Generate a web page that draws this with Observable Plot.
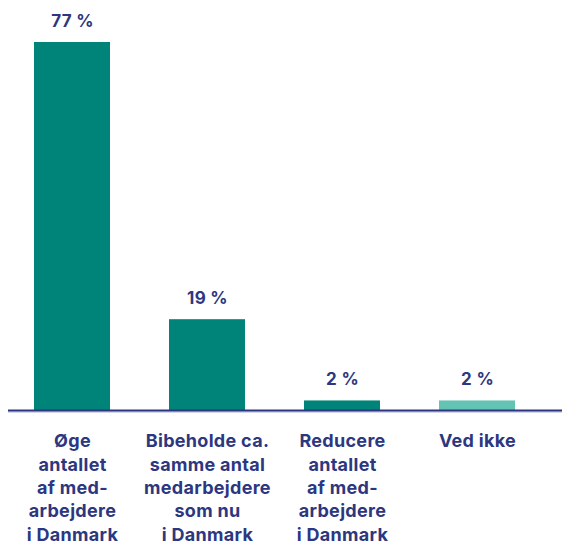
<!DOCTYPE html>
<html>
<head>
<meta charset="utf-8">
<script src="https://cdn.jsdelivr.net/npm/d3@7"></script>
<script src="https://cdn.jsdelivr.net/npm/@observablehq/plot@0.6"></script>
<style>
  html, body { margin: 0; padding: 0; background: #fff; }
  #chart { width: 562px; height: 547px; }
</style>
</head>
<body>
<div id="chart"></div>
<script>
const categories = [
  "Øge\nantallet\naf med-\narbejdere\ni Danmark",
  "Bibeholde ca.\nsamme antal\nmedarbejdere\nsom nu\ni Danmark",
  "Reducere\nantallet\naf med-\narbejdere\ni Danmark",
  "Ved ikke"
];
const values = [77, 19, 2, 2];
const valueLabels = ["77 %", "19 %", "2 %", "2 %"];
const barColors = ["#00847a", "#00847a", "#00847a", "#64c4b4"];

const data = categories.map((c, i) => ({cat: c, value: values[i], label: valueLabels[i], color: barColors[i]}));
const navy = "#2c3780";
const font = "Inter, 'Open Sans', sans-serif";

const chart = Plot.plot({
  width: 562,
  height: 547,
  marginLeft: 8,
  marginRight: 0,
  marginTop: 42,
  marginBottom: 137,
  style: {fontFamily: font, background: "#fff"},
  x: {domain: categories, paddingInner: 0.4384, paddingOuter: 0.266, align: 0.361, axis: null},
  y: {domain: [0, 77], axis: null},
  marks: [
    Plot.barY(data, {x: "cat", y: "value", fill: "color"}),
    Plot.ruleY([0], {stroke: "#aab0d0", strokeWidth: 1, dy: 1.5}),
    Plot.ruleY([0], {stroke: navy, strokeWidth: 2}),
    Plot.text(data, {x: "cat", y: "value", text: "label", lineAnchor: "bottom", dy: -16,
      fill: navy, fontSize: 17, fontWeight: 700}),
    Plot.text(data, {x: "cat", y: 0, text: "cat", lineAnchor: "top", dy: 20,
      fill: navy, fontSize: 18, fontWeight: 700, lineHeight: 1.3})
  ]
});
chart.querySelectorAll("text").forEach(t => t.style.letterSpacing = "0.3px");
document.getElementById("chart").appendChild(chart);
</script>
</body>
</html>
